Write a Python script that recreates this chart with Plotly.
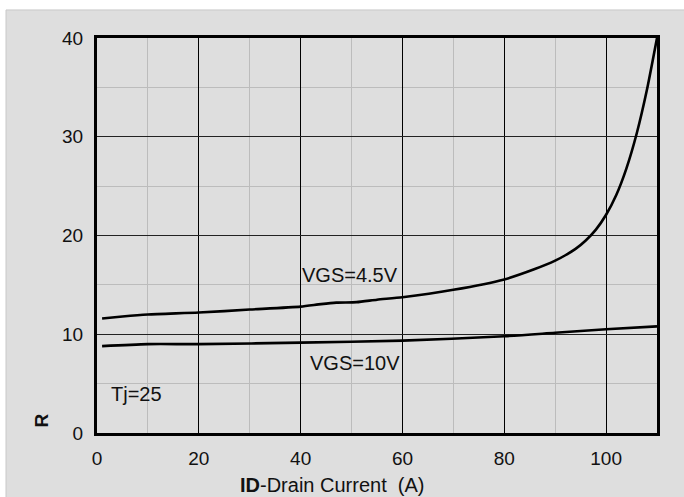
import plotly.graph_objects as go

# Drain current (A)
id_45 = [1, 5, 10, 20, 30, 40, 44, 47, 51, 55, 60, 70, 80, 86, 90, 92, 94, 96, 98, 100, 102, 104, 106, 108, 110]
r_45 = [11.6, 11.8, 12.0, 12.2, 12.5, 12.8, 13.05, 13.2, 13.25, 13.5, 13.75, 14.5, 15.55, 16.6, 17.45, 18.0, 18.65, 19.5, 20.6, 22.1, 24.1, 26.8, 30.3, 34.7, 40.0]

id_10 = [1, 10, 20, 40, 60, 80, 90, 100, 110]
r_10 = [8.8, 9.0, 9.0, 9.15, 9.35, 9.8, 10.15, 10.5, 10.8]

x_ticks = [0, 20, 40, 60, 80, 100]
y_ticks = [0, 10, 20, 30, 40]

labels = ["VGS=4.5V", "VGS=10V", "Tj=25"]
label_x = [49.7, 50.7, 7.7]
label_y = [15.95, 7.04, 3.9]

FONT = "Liberation Sans, Arial, sans-serif"
BG = "#dedede"

fig = go.Figure()
fig.add_trace(go.Scatter(x=id_45, y=r_45, mode="lines", line=dict(color="black", width=2.6, shape="spline", smoothing=0.6), showlegend=False))
fig.add_trace(go.Scatter(x=id_10, y=r_10, mode="lines", line=dict(color="black", width=2.6, shape="spline", smoothing=0.7), showlegend=False))

for t, x, y in zip(labels, label_x, label_y):
    fig.add_annotation(x=x, y=y, text=t, showarrow=False, xanchor="center", yanchor="middle",
                       font=dict(family=FONT, size=20, color="#111"))

fig.add_annotation(xref="paper", yref="paper", x=(40.5 - 97) / 560, y=(433 - 421) / 395, text="<b>R</b>",
                   textangle=-90, xanchor="center", yanchor="middle",
                   showarrow=False, font=dict(family=FONT, size=19, color="#111"))
fig.add_annotation(xref="paper", yref="paper", x=(332 - 97) / 560, y=(433 - 485) / 395,
                   text="<b>ID</b>-Drain Current  (A)", xanchor="center", yanchor="middle",
                   showarrow=False, font=dict(family=FONT, size=20, color="#111"))

fig.add_shape(type="rect", xref="paper", yref="paper", x0=-0.1625, x1=1.06, y0=-0.2, y1=1.071,
              fillcolor=BG, line=dict(color="#c8c8c8", width=1), layer="below")

fig.update_xaxes(range=[0, 110], tickvals=x_ticks, showgrid=True, gridcolor="black", gridwidth=1.2,
                 minor=dict(dtick=10, tick0=0, showgrid=True, gridcolor="#bcbcbc", gridwidth=1),
                 showline=True, linecolor="black", linewidth=3, mirror=True, zeroline=False,
                 ticks="outside", ticklen=6, tickcolor="rgba(0,0,0,0)",
                 tickfont=dict(family=FONT, size=19, color="#111"))
fig.update_yaxes(range=[0, 40], tickvals=y_ticks, showgrid=True, gridcolor="#222", gridwidth=1.2,
                 minor=dict(dtick=5, tick0=0, showgrid=True, gridcolor="#bcbcbc", gridwidth=1),
                 showline=True, linecolor="black", linewidth=3, mirror=True, zeroline=False,
                 ticks="outside", ticklen=7, tickcolor="rgba(0,0,0,0)",
                 tickfont=dict(family=FONT, size=19, color="#111"))

fig.update_layout(width=684, height=497, margin=dict(l=97, r=27, t=38, b=64, autoexpand=False),
                  paper_bgcolor="white", plot_bgcolor=BG, font=dict(family=FONT))

fig.write_html("out.html", config={"displayModeBar": False},
               post_script="document.body.style.margin='0';document.body.style.overflow='hidden';")
